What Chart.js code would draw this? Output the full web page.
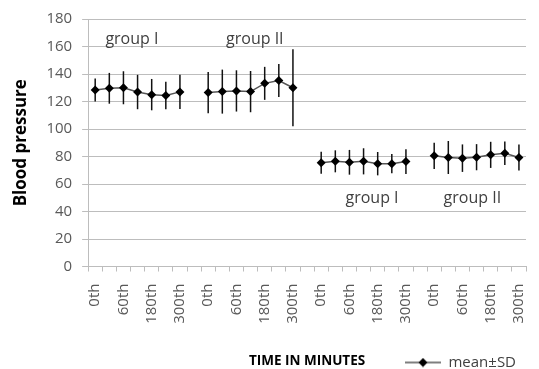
<!DOCTYPE html>
<html>
<head>
<meta charset="utf-8">
<script src="https://cdn.jsdelivr.net/npm/chart.js@4/dist/chart.umd.min.js"></script>
<style>
  html, body { margin: 0; padding: 0; background: #fff; }
  #wrap { width: 539px; height: 369px; }
</style>
</head>
<body>
<div id="wrap"><canvas id="bpChart" width="539" height="369"></canvas></div>
<script>
// 時間ラベル（各グループ7点）
const timeLabels = ['0th', '30th', '60th', '120th', '180th', '240th', '300th'];

// 平均値と標準偏差
const bp1GroupIMean = [128.4, 129.6, 130, 126.9, 125, 124.4, 127];
const bp1GroupISd = [8.4, 11.2, 12, 12.5, 11.4, 10, 12.5];
const bp1GroupIIMean = [126.5, 127.2, 127.7, 127.2, 133.2, 135.2, 130];
const bp1GroupIISd = [15, 16, 15, 15, 12, 12, 28];
const bp2GroupIMean = [75.5, 76.5, 75.8, 76.5, 74.8, 74.8, 76.3];
const bp2GroupISd = [8, 8, 9, 9.5, 8.5, 7, 9];
const bp2GroupIIMean = [80.5, 79.3, 78.8, 79.5, 81.2, 82.4, 79.3];
const bp2GroupIISd = [9.5, 12, 10, 9.5, 9.5, 8.5, 9.5];

const groupTexts = ['group I', 'group II', 'group I', 'group II'];
const yTicks = [0, 20, 40, 60, 80, 100, 120, 140, 160, 180];

const FONT = "'Open Sans'";

// グループを並べて間に空のカテゴリを入れる
const groupsMean = [bp1GroupIMean, bp1GroupIIMean, bp2GroupIMean, bp2GroupIIMean];
const groupsSd = [bp1GroupISd, bp1GroupIISd, bp2GroupISd, bp2GroupIISd];
const labels = [];
const means = [];
const sds = [];
groupsMean.forEach((g, gi) => {
  if (gi > 0) { labels.push(''); means.push(null); sds.push(null); }
  g.forEach((v, i) => {
    labels.push(timeLabels[i]);
    means.push(v);
    sds.push(groupsSd[gi][i]);
  });
});

// 凡例マーカー（線＋ひし形）
const marker = document.createElement('canvas');
marker.width = 36;
marker.height = 10;
(function () {
  const c = marker.getContext('2d');
  c.strokeStyle = '#555';
  c.lineWidth = 1.5;
  c.beginPath(); c.moveTo(0, 5); c.lineTo(36, 5); c.stroke();
  c.fillStyle = '#000';
  c.beginPath(); c.moveTo(18, 0.5); c.lineTo(22.5, 5); c.lineTo(18, 9.5); c.lineTo(13.5, 5); c.closePath(); c.fill();
})();

// エラーバー
const errorBars = {
  id: 'errorBars',
  beforeDatasetsDraw(chart) {
    const { ctx, scales: { x, y } } = chart;
    ctx.save();
    ctx.strokeStyle = '#111';
    ctx.lineWidth = 1.5;
    means.forEach((m, i) => {
      if (m === null) return;
      const px = x.getPixelForValue(i);
      ctx.beginPath();
      ctx.moveTo(px, y.getPixelForValue(m + sds[i]));
      ctx.lineTo(px, y.getPixelForValue(m - sds[i]));
      ctx.stroke();
    });
    ctx.restore();
  }
};

// グループ名の注記
const groupNotes = {
  id: 'groupNotes',
  afterDatasetsDraw(chart, args, opts) {
    const { ctx, scales: { x, y } } = chart;
    ctx.save();
    ctx.font = '16px ' + FONT;
    ctx.fillStyle = '#404040';
    ctx.textAlign = 'center';
    ctx.textBaseline = 'middle';
    opts.items.forEach((it, i) => {
      ctx.fillText(groupTexts[i], x.getPixelForValue(it.at), y.getPixelForValue(it.value));
    });
    ctx.restore();
  }
};

new Chart(document.getElementById('bpChart'), {
  type: 'line',
  data: {
    labels: labels,
    datasets: [{
      label: 'mean\u00B1SD',
      data: means,
      borderColor: '#555',
      borderWidth: 1.5,
      pointStyle: 'rectRot',
      pointRadius: 4.5,
      pointBackgroundColor: '#000',
      pointBorderColor: '#000',
      pointBorderWidth: 0,
      spanGaps: false,
    }],
  },
  options: {
    responsive: false,
    animation: false,
    layout: { padding: { top: 14, right: 13, left: 8, bottom: -11 } },
    scales: {
      x: {
        offset: true,
        // 右端の余白はレイアウト側で指定する
        afterFit: (s) => { s.paddingRight = 0; },
        grid: { display: true, drawOnChartArea: false, offset: true, tickLength: 5, color: '#bdbdbd' },
        border: { color: '#bdbdbd' },
        ticks: {
          autoSkip: false,
          maxRotation: 90,
          minRotation: 90,
          padding: 12,
          color: '#595959',
          font: { family: FONT, size: 15 },
          callback: (v, i) => (i % 2 === 0 ? labels[i] : ''),
        },
        title: {
          display: true,
          text: 'TIME IN MINUTES',
          color: '#000',
          font: { family: FONT, size: 13.5, weight: 'bold' },
          padding: { top: 17, bottom: -24 },
        },
      },
      y: {
        min: 0,
        max: 180,
        afterBuildTicks: (s) => { s.ticks = yTicks.map((v) => ({ value: v })); },
        grid: { color: '#bdbdbd', tickLength: 6 },
        border: { color: '#bdbdbd' },
        ticks: { color: '#595959', padding: 10, font: { family: FONT, size: 15 } },
        title: {
          display: true,
          text: 'Blood pressure',
          color: '#000',
          font: { family: FONT, size: 17, weight: 'bold' },
          padding: { top: 3, bottom: 5 },
        },
      },
    },
    plugins: {
      legend: {
        position: 'bottom',
        align: 'end',
        labels: {
          usePointStyle: true,
          pointStyleWidth: 36,
          padding: 10,
          color: '#404040',
          font: { family: FONT, size: 15 },
          generateLabels: (chart) => {
            const items = Chart.defaults.plugins.legend.labels.generateLabels(chart);
            items.forEach((it) => { it.pointStyle = marker; });
            return items;
          },
        },
      },
      tooltip: { enabled: false },
      groupNotes: {
        items: [
          { at: 2.6, value: 165.5 },
          { at: 11.3, value: 165.5 },
          { at: 19.6, value: 49.5 },
          { at: 26.7, value: 49.5 },
        ],
      },
    },
  },
  plugins: [errorBars, groupNotes],
});
</script>
</body>
</html>
